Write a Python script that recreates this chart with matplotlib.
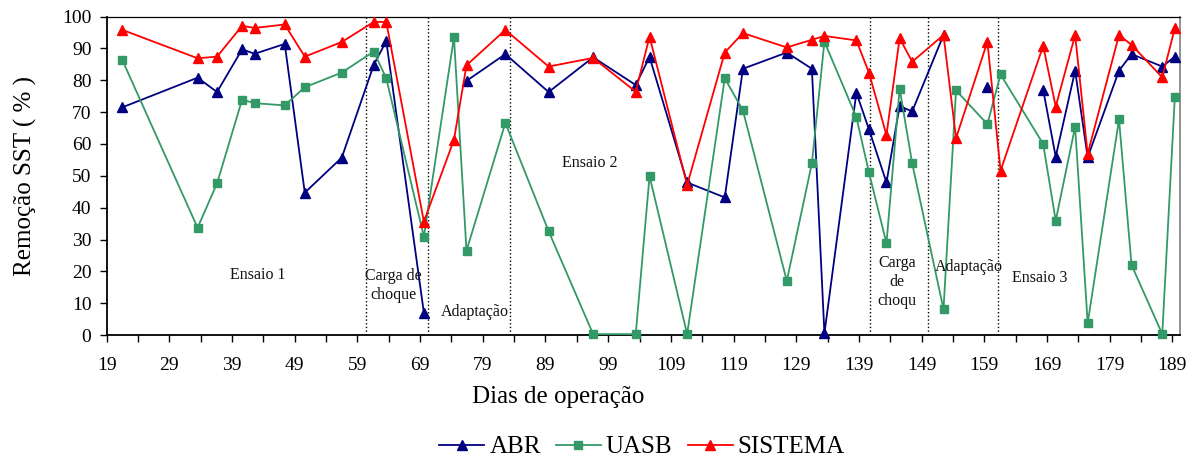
import numpy as np
import matplotlib.pyplot as plt

plt.rcParams['font.family'] = ['Liberation Serif', 'DejaVu Serif']

# dias de operacao (leitura do grafico)
dias = [21.5, 33.5, 36.6, 40.6, 42.6, 47.4, 50.6, 56.5, 61.6, 63.6,
        69.6, 74.4, 76.4, 82.6, 89.5, 96.6, 103.4, 105.6, 111.6, 117.6,
        120.5, 127.5, 131.5, 133.5, 138.6, 140.6, 143.4, 145.5, 147.5, 152.5,
        154.5, 159.5, 161.6, 168.4, 170.4, 173.5, 175.5, 180.5, 182.5, 187.4,
        189.4]

nan = np.nan
abr = [71.5, 80.8, 76.3, 89.7, 88.3, 91.4, 44.7, 55.7, 84.8, 92.3,
       7.0, nan, 79.8, 88.2, 76.3, 87.2, 78.5, 87.3, 47.9, 43.2,
       83.6, 88.7, 83.6, 0.5, 76.1, 64.6, 47.9, 71.9, 70.2, 94.2,
       nan, 77.8, nan, 77.0, 56.0, 83.0, 55.8, 83.0, 88.2, 84.3,
       87.4]
uasb = [86.3, 33.7, 47.6, 73.9, 72.8, 72.1, 77.8, 82.4, 89.0, 80.6,
        30.9, 93.5, 26.5, 66.6, 32.6, 0.3, 0.3, 49.9, 0.3, 80.6,
        70.5, 17.0, 53.9, 92.1, 68.4, 51.1, 28.8, 77.4, 53.9, 8.1,
        76.8, 66.2, 81.8, 60.0, 35.9, 65.4, 3.7, 67.7, 22.0, 0.3,
        74.6]
sistema = [95.8, 86.9, 87.4, 97.1, 96.4, 97.5, 87.4, 92.0, 98.3, 98.3,
           35.6, 61.3, 84.7, 95.8, 84.3, 87.0, 76.4, 93.7, 47.1, 88.7,
           94.8, 90.3, 92.7, 93.9, 92.5, 82.4, 62.8, 93.2, 85.8, 94.2,
           61.8, 92.1, 51.6, 90.8, 71.7, 94.2, 56.9, 94.2, 91.1, 80.9,
           96.3]

# divisoes entre fases
divisoes = [60.4, 70.3, 83.4, 140.8, 150.1, 161.2]
fases = ['Ensaio 1', 'Carga de\nchoque', 'Adaptação', 'Ensaio 2',
         'Carga\nde\nchoqu', 'Adaptação', 'Ensaio 3']
fases_x = [43.1, 64.8, 77.7, 96.0, 145.1, 156.6, 167.9]
fases_y = [18.9, 15.7, 7.3, 54.1, 16.7, 21.3, 17.8]

fig = plt.figure(figsize=(11.99, 4.59), dpi=100)
ax = fig.add_axes([0.089, 0.270, 0.895, 0.694])

ax.plot(dias, abr, color='#000080', marker='^', ms=7, lw=1.3,
        label='ABR', clip_on=False, zorder=3)
ax.plot(dias, uasb, color='#339966', marker='s', ms=5.5, lw=1.3,
        label='UASB', clip_on=False, zorder=3)
ax.plot(dias, sistema, color='#ff0000', marker='^', ms=7.5, lw=1.3,
        label='SISTEMA', clip_on=False, zorder=4)

for d in divisoes:
    ax.plot([d, d], [0, 100], 'k:', lw=1.0, zorder=2)

for t, x, y in zip(fases, fases_x, fases_y):
    ax.text(x, y, t, ha='center', va='center', fontsize=11.5,
            color='#111111', linespacing=1.25)

ax.set_xlim(19, 190.2)
ax.set_ylim(0, 100)
ax.set_xticks(np.arange(19, 190, 10))
ax.set_xticks(np.arange(24, 190, 10), minor=True)
ax.set_yticks(np.arange(0, 101, 10))
ax.tick_params(axis='both', which='both', direction='out', length=5,
               width=1.0, labelsize=14, pad=6)
ax.tick_params(axis='x', pad=11)

for s in ['left', 'bottom']:
    ax.spines[s].set_linewidth(1.3)
ax.spines['top'].set_linewidth(0.9)
ax.spines['right'].set_color('#808080')
ax.spines['right'].set_linewidth(1.2)

ax.set_ylabel('Remoção SST ( % )', fontsize=18, labelpad=18)
fig.text(558 / 1199, 1 - 397 / 459, 'Dias de operação', fontsize=18,
         ha='center', va='center')

fig.legend(loc='center', bbox_to_anchor=(642 / 1199, 1 - 447 / 459),
           ncol=3, frameon=False, fontsize=18, handlelength=1.8,
           handletextpad=0.2, columnspacing=0.6)

fig.savefig('out.png', dpi=100)
